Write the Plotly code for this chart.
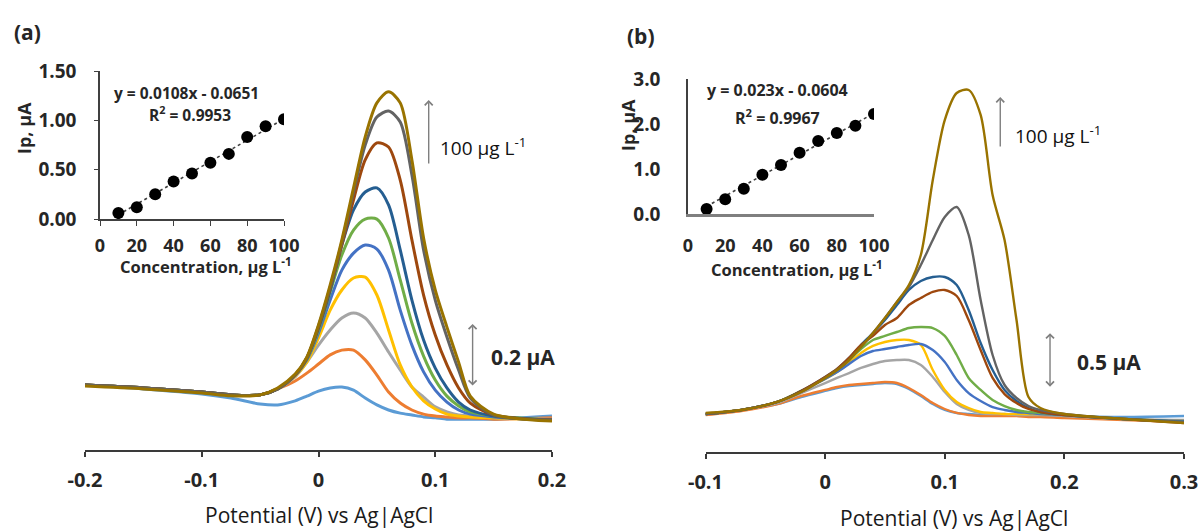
import plotly.graph_objects as go

# ---------------- data ----------------
series_colors = ["#5B9BD5", "#ED7D31", "#A5A5A5", "#FFC000", "#4472C4",
                 "#70AD47", "#255E91", "#9E480E", "#636363", "#997300"]
concentration = [10, 20, 30, 40, 50, 60, 70, 80, 90, 100]

# panel (a) voltammograms, potential in V, current in uA
potential_a = [-0.200, -0.150, -0.100, -0.075, -0.050, -0.035, -0.020, -0.010, 0.000, 0.010,
               0.020, 0.030, 0.040, 0.050, 0.060, 0.070, 0.080, 0.090, 0.100, 0.110,
               0.120, 0.130, 0.150, 0.200]
ia_10 = [0.206, 0.194, 0.178, 0.165, 0.146, 0.143, 0.156, 0.171, 0.187, 0.197, 0.200, 0.190, 0.165, 0.143, 0.127, 0.117, 0.111, 0.105, 0.102, 0.098, 0.098, 0.098, 0.098, 0.108]
ia_20 = [0.206, 0.197, 0.184, 0.175, 0.175, 0.194, 0.219, 0.244, 0.273, 0.302, 0.317, 0.317, 0.286, 0.238, 0.184, 0.149, 0.127, 0.114, 0.108, 0.105, 0.102, 0.102, 0.098, 0.102]
ia_30 = [0.206, 0.197, 0.184, 0.175, 0.175, 0.194, 0.232, 0.279, 0.333, 0.381, 0.419, 0.435, 0.419, 0.371, 0.311, 0.254, 0.200, 0.168, 0.137, 0.121, 0.111, 0.108, 0.102, 0.098]
ia_40 = [0.206, 0.197, 0.184, 0.175, 0.175, 0.194, 0.235, 0.279, 0.356, 0.444, 0.508, 0.546, 0.549, 0.492, 0.381, 0.270, 0.200, 0.156, 0.130, 0.114, 0.108, 0.105, 0.102, 0.095]
ia_50 = [0.206, 0.197, 0.184, 0.175, 0.175, 0.194, 0.238, 0.286, 0.371, 0.476, 0.571, 0.625, 0.651, 0.638, 0.571, 0.444, 0.333, 0.248, 0.190, 0.152, 0.127, 0.114, 0.105, 0.095]
ia_60 = [0.206, 0.197, 0.184, 0.175, 0.175, 0.194, 0.238, 0.289, 0.381, 0.502, 0.619, 0.698, 0.733, 0.733, 0.673, 0.540, 0.403, 0.298, 0.222, 0.171, 0.140, 0.121, 0.108, 0.095]
ia_70 = [0.206, 0.197, 0.184, 0.175, 0.175, 0.194, 0.238, 0.292, 0.387, 0.508, 0.651, 0.762, 0.819, 0.832, 0.778, 0.635, 0.476, 0.349, 0.260, 0.197, 0.152, 0.127, 0.108, 0.095]
ia_80 = [0.206, 0.197, 0.184, 0.175, 0.175, 0.194, 0.238, 0.292, 0.390, 0.514, 0.651, 0.794, 0.921, 0.975, 0.962, 0.857, 0.667, 0.492, 0.365, 0.270, 0.197, 0.149, 0.111, 0.095]
ia_90 = [0.206, 0.197, 0.184, 0.175, 0.175, 0.194, 0.238, 0.292, 0.394, 0.517, 0.660, 0.819, 0.968, 1.057, 1.076, 1.041, 0.873, 0.635, 0.476, 0.359, 0.254, 0.165, 0.111, 0.095]
ia_100 = [0.203, 0.194, 0.181, 0.172, 0.175, 0.197, 0.241, 0.295, 0.397, 0.524, 0.667, 0.832, 0.994, 1.102, 1.137, 1.102, 0.921, 0.673, 0.508, 0.390, 0.279, 0.171, 0.114, 0.092]

# panel (b) voltammograms
potential_b = [-0.10, -0.07, -0.04, -0.02, 0.00, 0.01, 0.02, 0.03, 0.04, 0.05, 0.06, 0.07, 0.08,
               0.09, 0.10, 0.11, 0.12, 0.13, 0.14, 0.15, 0.16, 0.17, 0.18, 0.20, 0.25, 0.30]
ib_10 = [0.345, 0.382, 0.436, 0.500, 0.555, 0.582, 0.600, 0.609, 0.618, 0.627, 0.618, 0.573, 0.509, 0.436, 0.382, 0.355, 0.345, 0.336, 0.336, 0.336, 0.336, 0.336, 0.336, 0.327, 0.318, 0.327]
ib_20 = [0.336, 0.373, 0.436, 0.509, 0.564, 0.591, 0.609, 0.618, 0.627, 0.636, 0.627, 0.582, 0.518, 0.445, 0.391, 0.355, 0.336, 0.327, 0.327, 0.327, 0.327, 0.318, 0.318, 0.309, 0.291, 0.273]
ib_30 = [0.345, 0.382, 0.445, 0.536, 0.627, 0.673, 0.718, 0.764, 0.800, 0.827, 0.836, 0.836, 0.791, 0.682, 0.545, 0.436, 0.382, 0.355, 0.345, 0.345, 0.336, 0.336, 0.336, 0.327, 0.300, 0.291]
ib_40 = [0.345, 0.382, 0.455, 0.555, 0.664, 0.727, 0.809, 0.900, 0.964, 1.000, 1.018, 1.018, 0.973, 0.745, 0.564, 0.455, 0.400, 0.364, 0.355, 0.345, 0.345, 0.345, 0.345, 0.336, 0.300, 0.282]
ib_50 = [0.345, 0.382, 0.455, 0.555, 0.664, 0.727, 0.800, 0.873, 0.918, 0.936, 0.955, 0.973, 0.982, 0.927, 0.818, 0.655, 0.536, 0.464, 0.409, 0.382, 0.364, 0.355, 0.345, 0.336, 0.300, 0.282]
ib_60 = [0.345, 0.382, 0.455, 0.555, 0.673, 0.745, 0.836, 0.936, 1.018, 1.055, 1.091, 1.127, 1.136, 1.127, 1.055, 0.882, 0.673, 0.564, 0.473, 0.418, 0.382, 0.364, 0.355, 0.336, 0.300, 0.273]
ib_70 = [0.345, 0.382, 0.455, 0.555, 0.682, 0.755, 0.855, 0.973, 1.082, 1.200, 1.336, 1.473, 1.555, 1.591, 1.591, 1.518, 1.291, 0.991, 0.745, 0.564, 0.464, 0.400, 0.364, 0.336, 0.300, 0.273]
ib_80 = [0.345, 0.382, 0.455, 0.555, 0.682, 0.755, 0.855, 0.973, 1.055, 1.155, 1.218, 1.336, 1.400, 1.455, 1.473, 1.418, 1.200, 0.927, 0.673, 0.527, 0.445, 0.391, 0.364, 0.336, 0.300, 0.264]
ib_90 = [0.345, 0.382, 0.455, 0.545, 0.673, 0.745, 0.836, 0.955, 1.082, 1.218, 1.364, 1.500, 1.700, 1.927, 2.136, 2.227, 1.973, 1.382, 0.882, 0.609, 0.491, 0.418, 0.382, 0.345, 0.300, 0.273]
ib_100 = [0.355, 0.382, 0.455, 0.545, 0.673, 0.745, 0.836, 0.955, 1.082, 1.218, 1.364, 1.518, 1.791, 2.473, 3.018, 3.264, 3.291, 3.064, 2.336, 1.927, 1.200, 0.500, 0.400, 0.345, 0.300, 0.264]

# calibration insets
ip_a = [0.06, 0.12, 0.25, 0.38, 0.46, 0.57, 0.66, 0.83, 0.94, 1.01]
ip_b = [0.11, 0.33, 0.56, 0.87, 1.09, 1.36, 1.62, 1.80, 1.96, 2.22]
fit_a = (0.0108, -0.0651, 0.9953)
fit_b = (0.023, -0.0604, 0.9967)

xticks_a = [-0.2, -0.1, 0, 0.1, 0.2]
xticks_b = [-0.1, 0, 0.1, 0.2, 0.3]
cticks = [0, 20, 40, 60, 80, 100]

curves_a = [ia_10, ia_20, ia_30, ia_40, ia_50, ia_60, ia_70, ia_80, ia_90, ia_100]
curves_b = [ib_10, ib_20, ib_30, ib_40, ib_50, ib_60, ib_70, ib_80, ib_90, ib_100]

# ---------------- figure ----------------
W, H = 1204, 531
FONT = "Open Sans"
TXT = "#262626"


def px(x):
    return x / W


def py(y):
    return 1 - y / H


fig = go.Figure()

for c, ys, col in zip(concentration, curves_a, series_colors):
    fig.add_trace(go.Scatter(x=potential_a, y=ys, mode="lines", name=f"{c}",
                             line=dict(color=col, width=3, shape="spline", smoothing=0.8),
                             xaxis="x", yaxis="y", showlegend=False))
for c, ys, col in zip(concentration, curves_b, series_colors):
    fig.add_trace(go.Scatter(x=potential_b, y=ys, mode="lines", name=f"{c}",
                             line=dict(color=col, width=2.4, shape="spline", smoothing=0.8),
                             xaxis="x2", yaxis="y2", showlegend=False))

# insets
for fit, ips, xa, ya in ((fit_a, ip_a, "x3", "y3"), (fit_b, ip_b, "x4", "y4")):
    xs = [concentration[0], concentration[-1]]
    fig.add_trace(go.Scatter(x=xs, y=[fit[0] * v + fit[1] for v in xs], mode="lines",
                             line=dict(color="#404040", width=1.6, dash="dot"),
                             xaxis=xa, yaxis=ya, showlegend=False))
    fig.add_trace(go.Scatter(x=concentration, y=ips, mode="markers",
                             marker=dict(color="black", size=12),
                             xaxis=xa, yaxis=ya, showlegend=False))

main_tick_font = dict(family=FONT, size=20, color=TXT, weight="bold")
inset_tick_font = dict(family=FONT, size=18, color=TXT, weight="bold")
inset_ytick_font = dict(family=FONT, size=19, color=TXT, weight="bold")
main_x = dict(showline=True, linecolor="#3a3a3a", linewidth=2, ticks="outside",
              ticklen=5, tickwidth=2, tickcolor="#3a3a3a", showgrid=False, zeroline=False,
              tickfont=main_tick_font, ticklabelstandoff=6, automargin=False)

fig.update_layout(
    width=W, height=H, margin=dict(l=0, r=0, t=0, b=0),
    paper_bgcolor="white", plot_bgcolor="rgba(0,0,0,0)",
    xaxis=dict(domain=[px(85), px(552)], range=[-0.2, 0.2], tickvals=xticks_a,
               ticktext=["-0.2", "-0.1", "0", "0.1", "0.2"], anchor="y", **main_x),
    yaxis=dict(domain=[py(450), py(50)], range=[0, 400 / 315], visible=False, anchor="x",
               automargin=False),
    xaxis2=dict(domain=[px(705.5), px(1184)], range=[-0.1, 0.3], tickvals=xticks_b,
                ticktext=["-0.1", "0", "0.1", "0.2", "0.3"], anchor="y2", **main_x),
    yaxis2=dict(domain=[py(452), py(52)], range=[0, 400 / 110], visible=False, anchor="x2",
                automargin=False),
    xaxis3=dict(domain=[px(100), px(284)], range=[0, 100], tickvals=cticks, anchor="y3",
                showline=True, linecolor="#404040", linewidth=1.5, ticks="outside", ticklen=5,
                tickcolor="#404040", showgrid=False, zeroline=False, tickfont=inset_tick_font,
                ticklabelstandoff=5, automargin=False),
    yaxis3=dict(domain=[py(219), py(71)], range=[0, 1.5], tickvals=[0, 0.5, 1.0, 1.5],
                ticktext=["0.00", "0.50", "1.00", "1.50"], anchor="x3",
                showline=True, linecolor="#404040", linewidth=1.5, ticks="outside", ticklen=4,
                tickcolor="#404040", showgrid=False, zeroline=False, tickfont=inset_ytick_font,
                ticklabelstandoff=14, automargin=False),
    xaxis4=dict(domain=[px(688), px(874)], range=[0, 100], tickvals=cticks, anchor="y4",
                showline=True, linecolor="#7f7f7f", linewidth=2.5, ticks="", showgrid=False,
                zeroline=False, tickfont=inset_tick_font, ticklabelstandoff=14, automargin=False),
    yaxis4=dict(domain=[py(214), py(79)], range=[0, 3.0], tickvals=[0, 1, 2, 3],
                ticktext=["0.0", "1.0", "2.0", "3.0"], anchor="x4",
                showline=True, linecolor="#404040", linewidth=1.5, ticks="", showgrid=False,
                zeroline=False, tickfont=inset_ytick_font, ticklabelstandoff=22, automargin=False),
)

ann = []


def text(x, y, s, size, bold=True, xanchor="center", angle=0, xref="paper", yref="paper",
         color=TXT):
    ann.append(dict(x=x, y=y, xref=xref, yref=yref, text=(f"<b>{s}</b>" if bold else s),
                    showarrow=False, xanchor=xanchor, yanchor="middle", textangle=angle,
                    font=dict(family=FONT, size=size, color=color)))


# panel labels
text(px(27), py(32), "(a)", 21)
text(px(641), py(36), "(b)", 21)
# axis titles
text(px(319), py(515), "Potential (V) vs Ag|AgCl", 21, bold=False, color="#1a1a1a")
text(px(954), py(518), "Potential (V) vs Ag|AgCl", 21, bold=False, color="#1a1a1a")
text(px(206), py(266), "Concentration, µg L<sup>-1</sup>", 16.5)
text(px(797), py(269), "Concentration, µg L<sup>-1</sup>", 16.5)
text(px(24), py(128), "Ip, µA", 18, angle=-90)
text(px(628), py(125), "Ip, µA", 18, angle=-90)
# equations
text(px(186), py(93), f"y = {fit_a[0]}x - {abs(fit_a[1])}", 15.5)
text(px(190), py(114), f"R<sup>2</sup> = {fit_a[2]}", 15.5)
text(px(777), py(90), f"y = {fit_b[0]}x - {abs(fit_b[1])}", 16)
text(px(777), py(117), f"R<sup>2</sup> = {fit_b[2]}", 16)

# arrows / scale bars (data coordinates)
arrow_style = dict(showarrow=True, arrowhead=4, arrowsize=1.1, arrowwidth=1.4,
                   arrowcolor="#7f7f7f", text="")
ann.append(dict(x=0.0944, y=1.111, ax=0.0944, ay=0.905, xref="x", yref="y", axref="x", ayref="y",
                **arrow_style))
ann.append(dict(x=0.132, y=0.40, ax=0.132, ay=0.20, xref="x", yref="y", axref="x", ayref="y",
                startarrowhead=4, arrowside="end+start", startarrowsize=1.1, **arrow_style))
ann.append(dict(x=0.1464, y=3.227, ax=0.1464, ay=2.764, xref="x2", yref="y2", axref="x2", ayref="y2",
                **arrow_style))
ann.append(dict(x=0.188, y=1.08, ax=0.188, ay=0.58, xref="x2", yref="y2", axref="x2", ayref="y2",
                startarrowhead=4, arrowside="end+start", startarrowsize=1.1, **arrow_style))
text(0.102, 0.962, "100 µg L<sup>-1</sup>", 19, bold=False, xanchor="left", xref="x", yref="y",
     color="#111111")
text(0.146, 0.295, "0.2 µA", 21, xanchor="left", xref="x", yref="y")
text(0.157, 2.882, "100 µg L<sup>-1</sup>", 19, bold=False, xanchor="left", xref="x2", yref="y2",
     color="#111111")
text(0.209, 0.818, "0.5 µA", 21, xanchor="left", xref="x2", yref="y2")

fig.update_layout(annotations=ann)
fig.write_html("out.html", config={"displayModeBar": False},
               post_script="document.body.style.margin='0px';document.body.style.padding='0px';")
